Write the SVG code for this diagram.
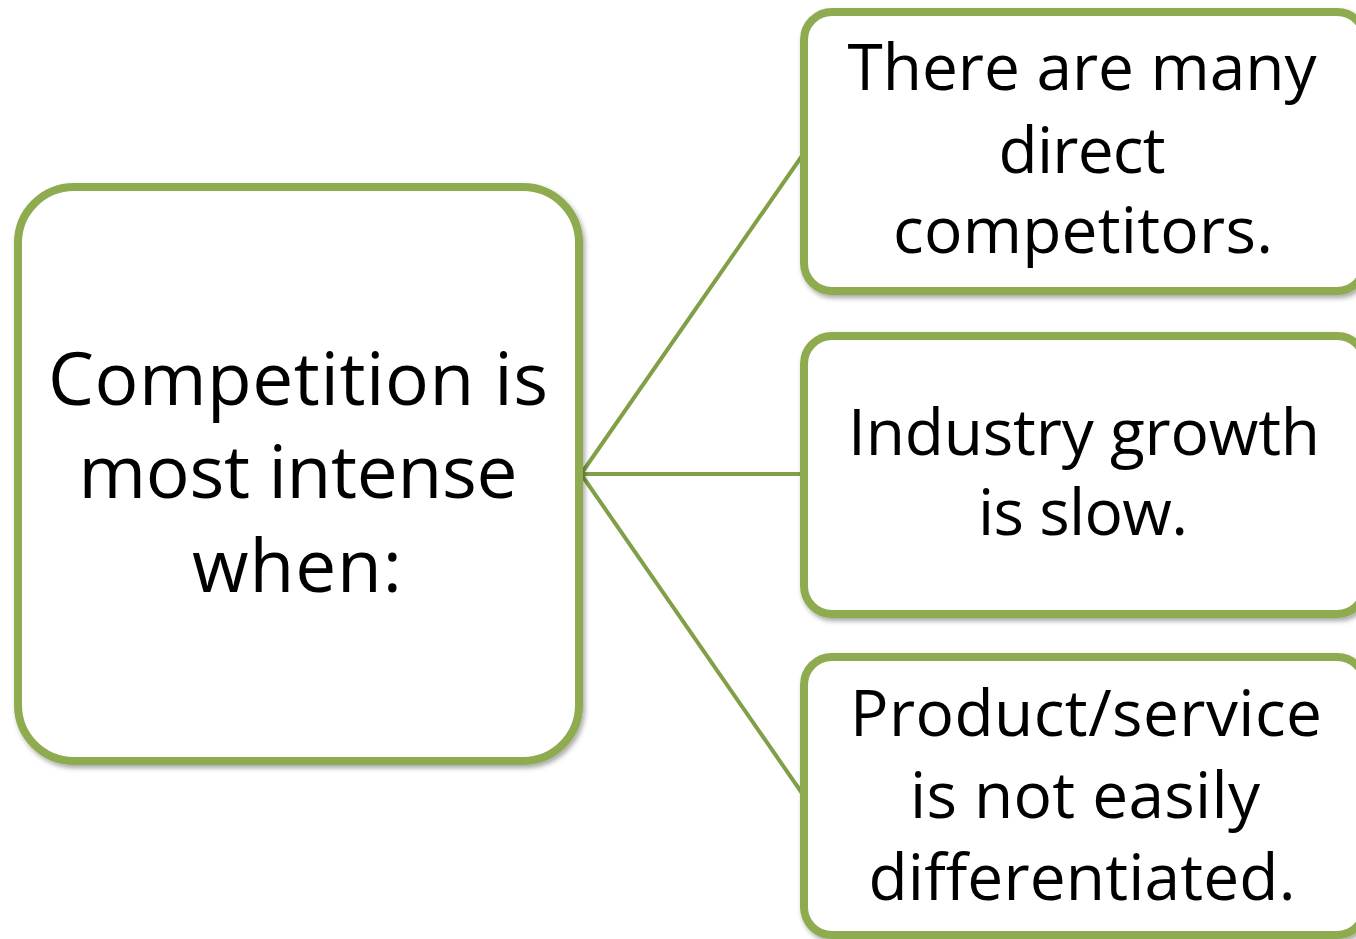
<svg xmlns="http://www.w3.org/2000/svg" width="1356" height="939" viewBox="0 0 1356 939">
  <defs>
    <filter id="sh" x="-10%" y="-10%" width="120%" height="120%">
      <feDropShadow dx="2" dy="3" stdDeviation="2.5" flood-color="#000" flood-opacity="0.35"/>
    </filter>
  </defs>
  <style>
    .box { fill: #ffffff; stroke: #8eab50; stroke-width: 8; filter: url(#sh); }
    .conn { stroke: #829f48; stroke-width: 4; fill: none; }
    .t { font-family: "Open Sans", "Liberation Sans", sans-serif; fill: #000; text-anchor: middle; }
    .big { font-size: 73px; }
    .sm { font-size: 64px; }
  </style>
  <rect x="0" y="0" width="1356" height="939" fill="#ffffff"/>
  <g id="connectors">
    <line class="conn" x1="581" y1="474" x2="804" y2="153"/>
    <line class="conn" x1="581" y1="474" x2="804" y2="474"/>
    <line class="conn" x1="581" y1="474" x2="804" y2="796"/>
  </g>
  <g id="node-main">
    <rect class="box" x="18" y="187" width="561" height="574" rx="56" ry="56"/>
    <text class="t big" x="298" y="405" textLength="500">Competition is</text>
    <text class="t big" x="298" y="498" textLength="439">most intense</text>
    <text class="t big" x="297" y="592" textLength="210">when:</text>
  </g>
  <g id="node-competitors">
    <rect class="box" x="804" y="12" width="561" height="279" rx="28" ry="28"/>
    <text class="t sm" x="1082" y="90" textLength="469">There are many</text>
    <text class="t sm" x="1082" y="173" textLength="167">direct</text>
    <text class="t sm" x="1083" y="253" textLength="380">competitors.</text>
  </g>
  <g id="node-growth">
    <rect class="box" x="804" y="336" width="561" height="278" rx="28" ry="28"/>
    <text class="t sm" x="1084" y="455" textLength="472">Industry growth</text>
    <text class="t sm" x="1083" y="535" textLength="210">is slow.</text>
  </g>
  <g id="node-differentiation">
    <rect class="box" x="804" y="657" width="561" height="278" rx="28" ry="28"/>
    <text class="t sm" x="1086" y="736" textLength="472">Product/service</text>
    <text class="t sm" x="1085" y="818" textLength="350">is not easily</text>
    <text class="t sm" x="1082" y="900" textLength="427">differentiated.</text>
  </g>
</svg>
